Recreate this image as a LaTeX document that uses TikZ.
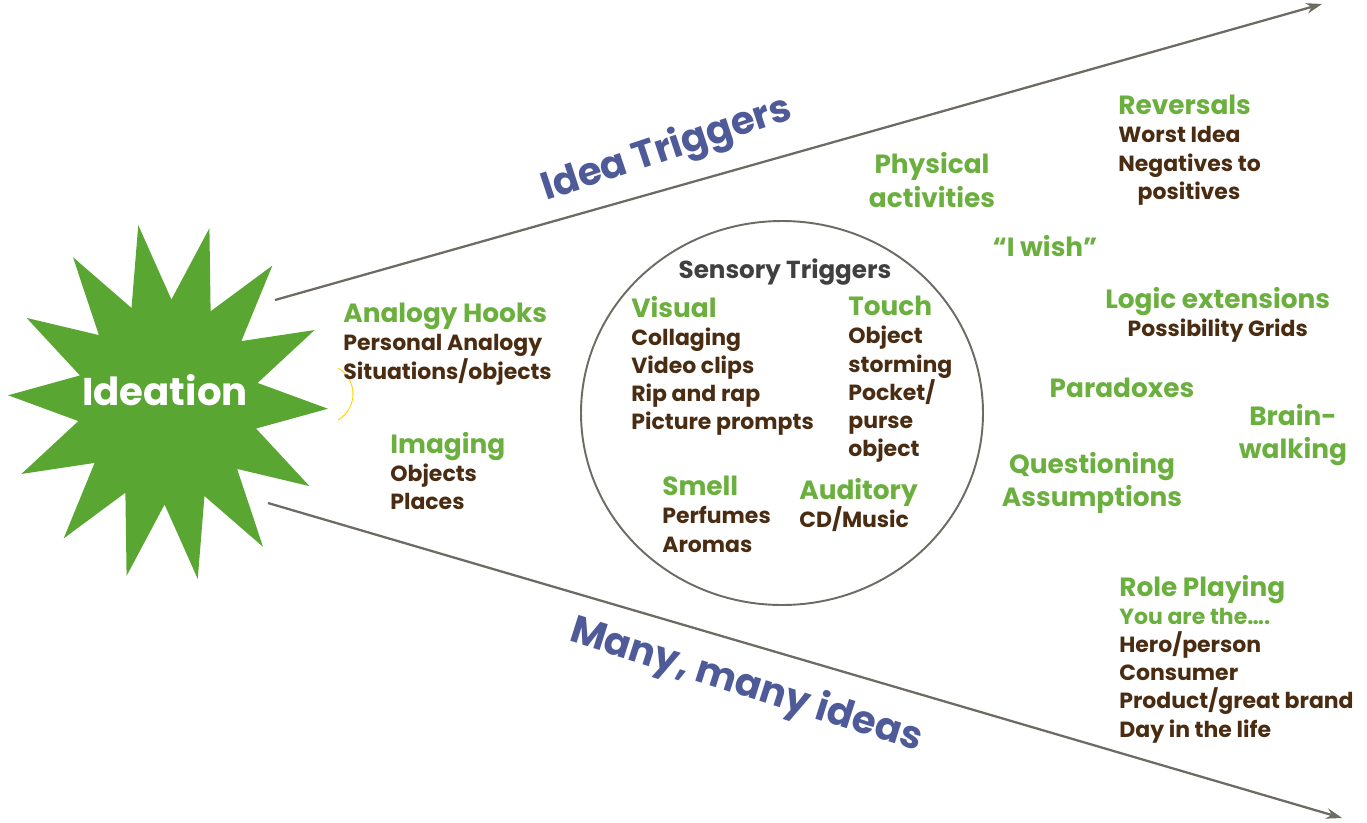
\documentclass[tikz,border=0pt]{standalone}
\usepackage{fontspec}
\setmainfont{Poppins}
\usetikzlibrary{arrows.meta}
\definecolor{leaf}{HTML}{5AA632}
\definecolor{idgreen}{HTML}{6BAF3F}
\definecolor{idbrown}{HTML}{4A2C12}
\definecolor{idblue}{HTML}{4F5A98}
\definecolor{idgrey}{HTML}{6E6A64}
\tikzset{
  head/.style={text=idgreen, font=\fontsize{15}{17}\selectfont\bfseries, inner sep=0pt},
  item/.style={anchor=north west, align=left, inner sep=0pt, text=idbrown,
    font=\fontsize{12.5}{16}\selectfont\bfseries},
  big/.style={text=idblue, font=\fontsize{22}{26}\selectfont\bfseries, inner sep=0pt},
  funnel/.style={draw=idgrey, line width=1.3pt, -{Stealth[length=9pt,width=6pt]}},
}
\newcommand{\hd}[1]{{\color{idgreen}\fontsize{15}{17}\selectfont #1}}
\begin{document}
\begin{tikzpicture}[x=0.2mm, y=-0.2mm]
\useasboundingbox (0,0) rectangle (1367,822);

% Funnel arms
\coordinate (up0) at (275,300);
\coordinate (up1) at (1322,4);
\coordinate (lo0) at (268,503);
\coordinate (lo1) at (1342,818);
\draw[funnel] (up0) -- (up1);
\draw[funnel] (lo0) -- (lo1);

% Ideation star
\fill[leaf] ({168+160*cos(75)},{402-180*sin(75)})
  \foreach \i [evaluate=\i as \r using {mod(\i,2)==0 ? 1 : 0.57}] in {1,...,27}
  { -- ({168+160*\r*cos(\i*360/28+75)},{402-180*\r*sin(\i*360/28+75)}) } -- cycle;
\node[text=white, font=\fontsize{22}{26}\selectfont\bfseries] (ideation) at (165,390) {Ideation};
\draw[yellow!70!orange, line width=0.5pt] (338,368) arc[start angle=120, end angle=240, radius=-30];

% Arm labels
\node[big, rotate=18.4] (trig) at (667,150) {Idea Triggers};
\node[big, rotate=-17.6] (many) at (746,686) {Many, many ideas};

% Sensory circle
\draw[idgrey, line width=1.1pt] (782,413) ellipse [x radius=201, y radius=192];
\node[text=black!75, font=\fontsize{14}{16}\selectfont\bfseries] (sensory) at (785,272) {Sensory Triggers};

% Left groups
\node[item] (analogy) at (343,303) {\hd{Analogy Hooks}\\Personal Analogy\\Situations/objects};
\node[item] (imaging) at (390,432) {\hd{Imaging}\\Objects\\Places};

% Inside circle
\node[item] (visual) at (631,296) {\hd{Visual}\\Collaging\\Video clips\\Rip and rap\\Picture prompts};
\node[item] (touch) at (848,296) {\hd{Touch}\\Object\\storming\\Pocket/\\purse\\object};
\node[item] (smell) at (662,476) {\hd{Smell}\\Perfumes\\Aromas};
\node[item] (auditory) at (799,478) {\hd{Auditory}\\CD/Music};

% Right groups
\node[head, align=center] (physical) at (932,180) {Physical\\[2pt]activities};
\node[item] (reversals) at (1118,95) {\hd{Reversals}\\Worst Idea\\Negatives to\\\hspace*{11pt}positives};
\node[head] (wish) at (1045,246) {“I wish”};
\node[item, align=center] (logic) at (1105,287) {\hd{Logic extensions}\\Possibility Grids};
\node[head] (paradox) at (1122,388) {Paradoxes};
\node[head, align=center] (brain) at (1293,435) {Brain-\\[2pt]walking};
\node[head, align=center] (question) at (1092,483) {Questioning\\[2pt]Assumptions};
\node[item] (role) at (1119,575) {\hd{Role Playing}\\{\color{idgreen}You are the\dots.}\\Hero/person\\Consumer\\Product/great brand\\Day in the life};

\end{tikzpicture}
\end{document}
